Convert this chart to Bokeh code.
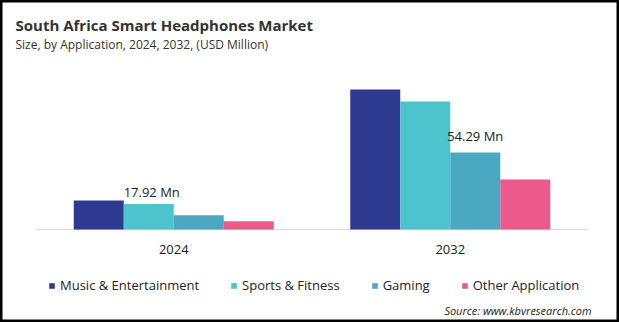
from bokeh.plotting import figure
from bokeh.models import ColumnDataSource, Range1d, Label, Legend, LegendItem
from bokeh.transform import dodge
from bokeh.core.properties import value
from bokeh.embed import file_html
from bokeh.resources import INLINE

# ---- data ----
years = ["2024", "2032"]
series = ["Music & Entertainment", "Sports & Fitness", "Gaming", "Other Application"]
music = [20.5, 98.8]
sports = [17.92, 90.4]
gaming = [10.1, 54.29]
other = [5.9, 35.3]
label_years = ["2024", "2032"]
label_series = [1, 2]          # index of series carrying the value label
label_values = [17.92, 54.29]
label_yoff = [-12, -17]
label_xoff = [3, 0]

colors = ["#2E3990", "#4DC3CE", "#4AA8C1", "#EB5A8A"]
FONT = "Open Sans"
W, H = 619, 322
group_px = 276.5               # pixels per category
val_per_px = 0.706             # value units per pixel
x0_px, base_px = 173.25, 93    # first category centre / baseline height (px)

p = figure(width=W, height=H, output_backend="svg", toolbar_location=None,
           x_range=Range1d(-x0_px / group_px, (W - x0_px) / group_px),
           y_range=Range1d(-base_px * val_per_px, (H - base_px) * val_per_px),
           x_axis_location=None, y_axis_location=None, title=None, min_border=0)
p.outline_line_color = "black"
p.outline_line_width = 4
p.xgrid.visible = False
p.ygrid.visible = False
p.background_fill_color = "white"
p.border_fill_color = "white"

xpos = list(range(len(years)))
src = ColumnDataSource(dict(x=xpos, year=years, music=music, sports=sports, gaming=gaming, other=other))
bw = 50 / group_px
cols = ["music", "sports", "gaming", "other"]

# category axis line and labels
p.segment(x0=[xpos[0] - 0.5], y0=[0], x1=[xpos[-1] + 0.5], y1=[0], line_color="#D9D9D9", line_width=1)
p.text(x="x", y=0, text="year", source=src, y_offset=20, text_align="center",
       text_baseline="alphabetic", text_font=value(FONT), text_font_size="13px", text_color="#222222")

renderers = []
for i, c in enumerate(cols):
    r = p.vbar(x=dodge("x", (i - 1.5) * bw), top=c, width=bw,
               source=src, fill_color=colors[i], line_color=None)
    renderers.append(r)

for i in range(len(label_years)):
    s = label_series[i]
    one = ColumnDataSource(dict(x=[years.index(label_years[i])], val=[label_values[i]],
                                txt=[f"{label_values[i]:.2f} Mn"]))
    p.text(x=dodge("x", (s - 1.5) * bw), y="val", text="txt", source=one,
           x_offset=label_xoff[i], y_offset=label_yoff[i], text_align="center",
           text_baseline="alphabetic",
           text_font=value(FONT), text_font_size="13px", text_color="#222222")

p.add_layout(Label(x=15, y=298, x_units="screen", y_units="screen",
                   text="South Africa Smart Headphones Market", text_font=FONT,
                   text_font_size="15px", text_font_style="bold", text_color="#333333",
                   text_baseline="alphabetic"))
p.add_layout(Label(x=15, y=278, x_units="screen", y_units="screen",
                   text="Size, by Application, 2024, 2032, (USD Million)", text_font=FONT,
                   text_font_size="12px", text_color="#333333", text_baseline="alphabetic"))
p.add_layout(Label(x=591, y=12, x_units="screen", y_units="screen",
                   text="Source: www.kbvresearch.com", text_font=FONT, text_align="right",
                   text_font_size="11px", text_font_style="italic", text_color="#222222",
                   text_baseline="alphabetic"))

legend = Legend(items=[LegendItem(label=series[i], renderers=[renderers[i]]) for i in range(4)],
                location=(48, 28), orientation="horizontal",
                glyph_width=7, glyph_height=7, label_standoff=5, spacing=31,
                padding=0, margin=0, border_line_color=None, background_fill_alpha=0,
                label_text_font=FONT, label_text_font_size="13px", label_text_color="#222222")
p.add_layout(legend, "center")

open("out.html", "w").write(file_html(p, INLINE))
